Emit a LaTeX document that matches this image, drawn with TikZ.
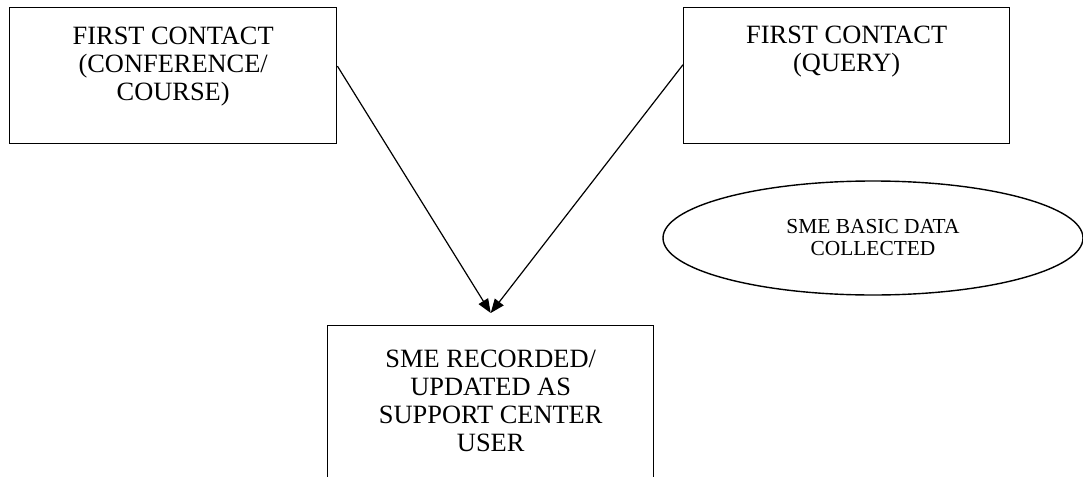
\documentclass[tikz,border=0pt]{standalone}
\usepackage{fontspec}
\setmainfont{Liberation Serif}
\usetikzlibrary{arrows.meta,calc,shapes.geometric}
\newcommand\mybox[3]{\parbox[c][#1][t]{#2}{\centering\fontsize{13.2pt}{14pt}\selectfont #3}}
\begin{document}
\begin{tikzpicture}[x=0.5pt,y=-0.5pt,
  boxnode/.style={draw, line width=0.7pt, inner sep=0pt, anchor=north west},
  ellnode/.style={draw, ellipse, line width=0.7pt, inner sep=0pt, minimum width=210pt, minimum height=57pt, align=center, font=\fontsize{10.7pt}{11pt}\selectfont},
  flow/.style={line width=0.6pt, -{Triangle[length=7pt,width=5.5pt]}}]
\useasboundingbox (0,0) rectangle (1083,477);
\node[boxnode] (tl) at (9,7) {\mybox{68pt}{163.5pt}{\rule{0pt}{18.5pt}FIRST CONTACT\\(CONFERENCE/\\COURSE)}};
\node[boxnode] (tr) at (683,7) {\mybox{68pt}{163pt}{\rule{0pt}{18pt}FIRST CONTACT\\(QUERY)}};
\node[boxnode] (bot) at (327,325) {\mybox{90pt}{163pt}{\rule{0pt}{21pt}SME RECORDED/\\UPDATED AS\\SUPPORT CENTER\\USER}};
\node[ellnode] (ell) at (873,238) {SME BASIC DATA\\COLLECTED};
\draw[flow] ($(tl.north east)!0.43!(tl.south east)$) -- ($(bot.north)+(0,-12)$);
\draw[flow] ($(tr.north west)!0.42!(tr.south west)$) -- ($(bot.north)+(0,-12)$);
\end{tikzpicture}
\end{document}
